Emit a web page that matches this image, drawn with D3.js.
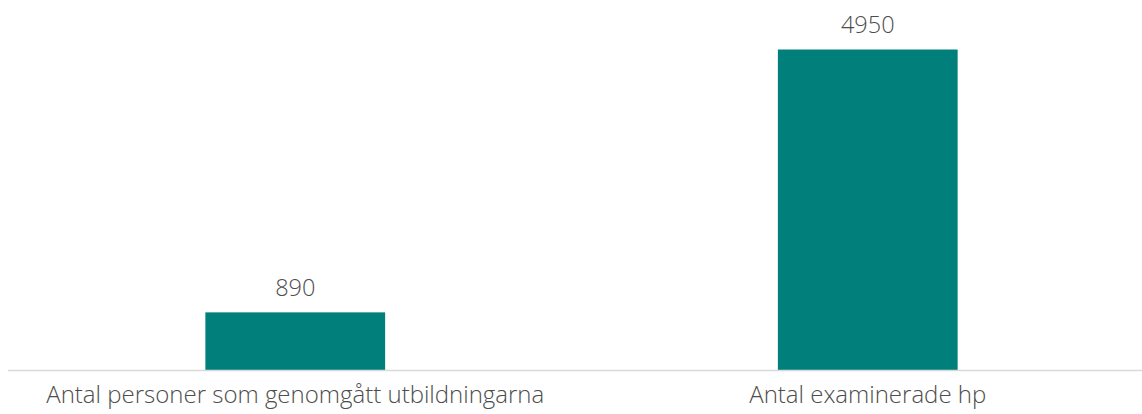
<!DOCTYPE html>
<html>
<head>
<meta charset="utf-8">
<script src="https://cdn.jsdelivr.net/npm/d3@7"></script>
<style>
  body { margin: 0; background: #fff; }
  .chart text { font-family: 'Open Sans', sans-serif; font-weight: 300; fill: #4d4d4d; }
</style>
</head>
<body>
<div class="chart"></div>
<script>
'use strict';

const categories = ['Antal personer som genomgått utbildningarna', 'Antal examinerade hp'];
const values = [890, 4950];

const width = 1142;
const height = 414;
const baseY = 370;

const svg = d3.select('.chart')
    .append('svg')
    .attr('width', width)
    .attr('height', height);

const x = d3.scaleBand()
    .domain(categories)
    .range([9, 1154])
    .paddingInner(0.686)
    .paddingOuter(0.343);

const y = d3.scaleLinear()
    .domain([0, d3.max(values)])
    .range([baseY, 49.5]);

const data = categories.map((c, i) => ({name: c, value: values[i]}));

svg.selectAll('.bar')
    .data(data)
    .enter().append('rect')
    .attr('class', 'bar')
    .attr('x', (d) => x(d.name))
    .attr('y', (d) => y(d.value))
    .attr('width', x.bandwidth())
    .attr('height', (d) => baseY - y(d.value))
    .style('fill', '#007f7b');

// baseline
svg.append('line')
    .attr('x1', 8)
    .attr('x2', width)
    .attr('y1', baseY + 0.5)
    .attr('y2', baseY + 0.5)
    .style('stroke', '#d9d9d9')
    .style('stroke-width', 1.5);

// value labels
svg.selectAll('.val')
    .data(data)
    .enter().append('text')
    .attr('class', 'val')
    .attr('x', (d) => x(d.name) + x.bandwidth() / 2)
    .attr('y', (d) => y(d.value) - 16.5)
    .attr('text-anchor', 'middle')
    .style('font-size', '23.5px')
    .text((d) => d.value);

// category labels
svg.selectAll('.cat')
    .data(data)
    .enter().append('text')
    .attr('class', 'cat')
    .attr('x', (d) => x(d.name) + x.bandwidth() / 2)
    .attr('y', 403)
    .attr('text-anchor', 'middle')
    .style('font-size', '24px')
    .text((d) => d.name);
</script>
</body>
</html>
